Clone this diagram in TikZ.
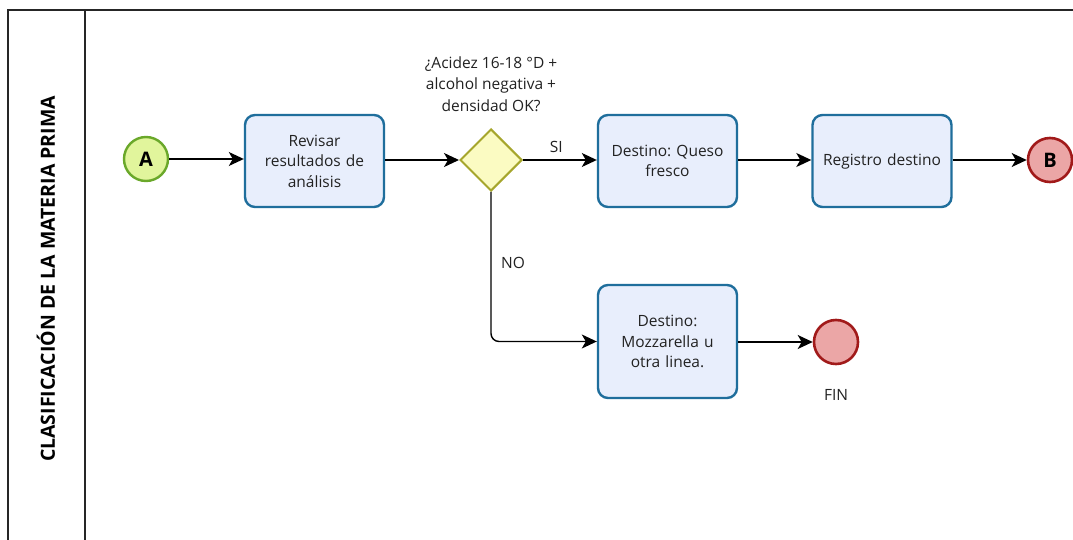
\documentclass[tikz,border=0pt]{standalone}
\usepackage{fontspec}
\setmainfont{Open Sans}
\usetikzlibrary{arrows.meta,shapes.geometric}
\frenchspacing
\definecolor{taskfill}{HTML}{E8EEFC}
\definecolor{taskline}{HTML}{1F6E9C}
\definecolor{startfill}{HTML}{E1F59C}
\definecolor{startline}{HTML}{6AA82A}
\definecolor{endfill}{HTML}{EBA6A6}
\definecolor{endline}{HTML}{A11A1A}
\definecolor{gatefill}{HTML}{FBFBC2}
\definecolor{gateline}{HTML}{A6A62C}
\definecolor{textgray}{HTML}{222222}
\tikzset{
  task/.style={draw=taskline, fill=taskfill, line width=2.4pt, rounded corners=10pt,
    minimum width=139pt, minimum height=92pt, align=center, text width=130pt,
    font=\fontsize{15.5}{20.5}\selectfont, text=textgray, inner sep=0pt},
  startev/.style={circle, draw=startline, fill=startfill, line width=2.4pt,
    minimum size=44pt, inner sep=0pt, font=\fontsize{20}{20}\selectfont\bfseries},
  endev/.style={circle, draw=endline, fill=endfill, line width=2.6pt,
    minimum size=44pt, inner sep=0pt, font=\fontsize{20}{20}\selectfont\bfseries},
  gate/.style={diamond, draw=gateline, fill=gatefill, line width=2pt,
    minimum size=62pt, inner sep=0pt},
  flow/.style={line width=1.4pt, -{Stealth[length=15pt,width=14pt,inset=4pt]}},
  lbl/.style={font=\fontsize{15.5}{21.5}\selectfont, text=textgray, align=center, inner sep=0pt},
}
\begin{document}
\begin{tikzpicture}[x=1pt,y=-1pt]
  \useasboundingbox (0,0) rectangle (1073,540);
  \fill[white] (0,0) rectangle (1073,540);
  % pool and lane frame
  \draw[line width=1.3pt, draw=black!85] (8,545) -- (8,10) -- (1080,10);
  \draw[line width=1.3pt, draw=black!85] (85,10) -- (85,545);
  \node[rotate=90, font=\fontsize{19.5}{20}\selectfont\bfseries, inner sep=0pt] (lane) at (46,279) {CLASIFICACIÓN DE LA MATERIA PRIMA};

  % events, tasks and gateway
  \node[startev] (A) at (146,159) {A};
  \node[task] (rev) at (314.5,161) {Revisar\\resultados de\\análisis};
  \node[gate] (g) at (491,160) {};
  \node[lbl] (q) at (491,84) {¿Acidez 16-18 °D +\\alcohol negativa +\\densidad OK?};
  \node[task] (qf) at (667.5,161) {Destino: Queso\\fresco};
  \node[task] (reg) at (882,161) {Registro destino};
  \node[endev] (B) at (1050,160) {B};
  \node[task, minimum height=113pt] (moz) at (667.5,341.5) {Destino:\\Mozzarella u\\otra linea.};
  \node[endev] (fin) at (836,342) {};
  \node[lbl] (finl) at (836,395) {FIN};

  % sequence flows
  \draw[flow] (A) -- (rev.west |- A);
  \draw[flow] (rev.east |- g) -- (g.west);
  \draw[flow] (g.east) -- (qf.west |- g) node[lbl, pos=0.45, above=7pt] (si) {SI};
  \draw[flow] (qf.east |- g) -- (reg.west |- g);
  \draw[flow] (reg.east |- B) -- (B.west);
  \draw[flow, rounded corners=8pt] (g.south) -- (g.south |- moz.west) -- (moz.west);
  \node[lbl] (no) at (513,263) {NO};
  \draw[flow] (moz.east |- fin) -- (fin.west);
\end{tikzpicture}
\end{document}
